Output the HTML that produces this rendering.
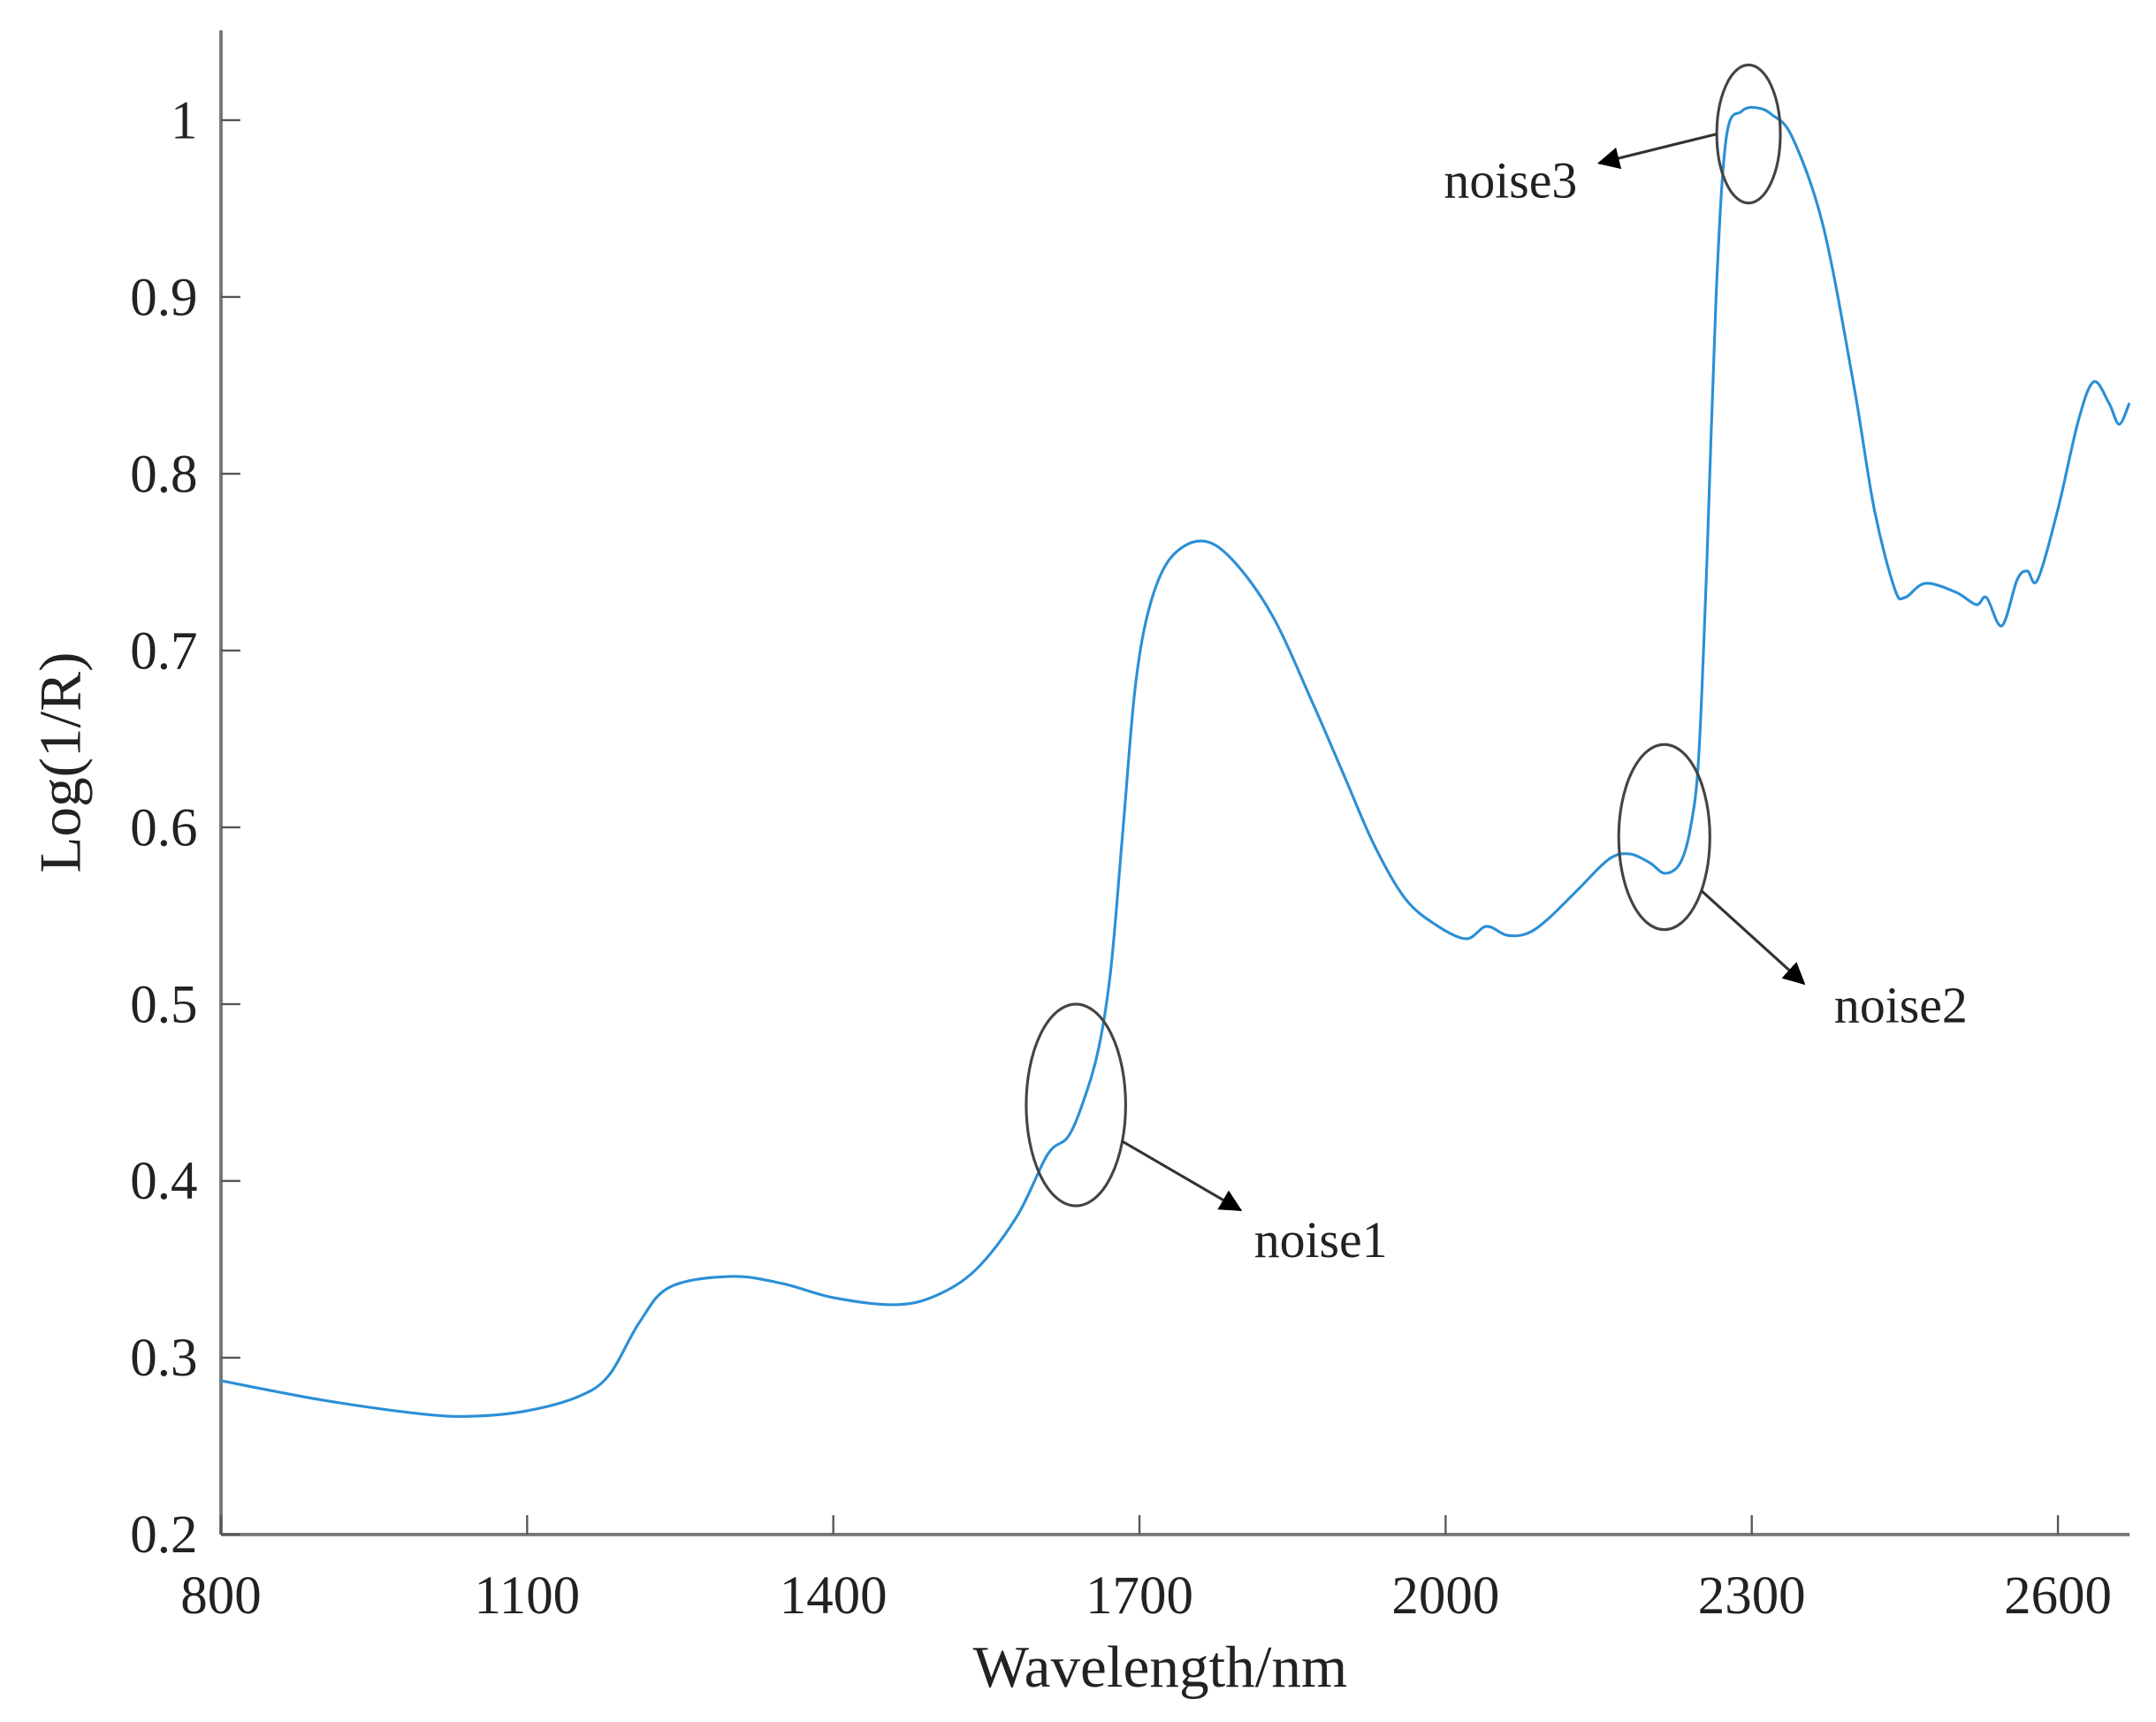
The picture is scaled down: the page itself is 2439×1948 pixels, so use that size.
<!DOCTYPE html>
<html><head><meta charset="utf-8"><style>
html,body{margin:0;padding:0;background:#fff;}
svg{display:block;}
text{font-family:"Liberation Serif",serif;fill:#222;}
</style></head><body>
<svg id="chart" width="2439" height="1948" viewBox="0 0 1561 1246.7" xmlns="http://www.w3.org/2000/svg">
<g id="axes"></g>
<path id="line" fill="none" stroke="#2b8fd6" stroke-width="2"></path>
<g id="ann"></g>
<text x="840" y="1221" font-size="43" text-anchor="middle">Wavelength/nm</text>
<text transform="translate(58,552) rotate(-90)" font-size="43" text-anchor="middle">Log(1/R)</text>
</svg>
<script>
const wavelengths=[800,900,1000,1050,1100,1150,1180,1210,1240,1300,1350,1400,1460,1500,1540,1580,1610,1630,1645,1660,1672,1684,1696,1710,1730,1760,1790,1830,1870,1900,1930,1960,1990,2020,2040,2060,2080,2100,2130,2160,2180,2200,2215,2230,2240,2248,2256,2265,2275,2290,2305,2320,2340,2370,2400,2420,2440,2450,2470,2500,2520,2530,2545,2560,2570,2580,2600,2620,2635,2650,2660,2670];
const absorbance=[0.287,0.276,0.268,0.267,0.270,0.278,0.290,0.320,0.340,0.346,0.342,0.334,0.330,0.335,0.350,0.380,0.415,0.425,0.445,0.475,0.52,0.60,0.68,0.725,0.752,0.762,0.752,0.72,0.67,0.63,0.59,0.56,0.545,0.537,0.544,0.539,0.540,0.548,0.565,0.582,0.585,0.580,0.574,0.58,0.60,0.64,0.75,0.90,0.99,1.005,1.007,1.003,0.99,0.94,0.85,0.78,0.735,0.730,0.738,0.733,0.726,0.730,0.714,0.740,0.745,0.740,0.78,0.83,0.852,0.840,0.828,0.840];
const xTicks=[800,1100,1400,1700,2000,2300,2600];
const yTicks=[0.2,0.3,0.4,0.5,0.6,0.7,0.8,0.9,1.0];
const yTickLabels=["0.2","0.3","0.4","0.5","0.6","0.7","0.8","0.9","1"];
const NS="http://www.w3.org/2000/svg";
const X=w=>160+(w-800)*(1330/1800);
const Y=v=>1111-(v-0.2)*1280;
const axes=document.getElementById('axes');
function mk(tag,attrs,parent,txt){const e=document.createElementNS(NS,tag);for(const k in attrs)e.setAttribute(k,attrs[k]);if(txt!==undefined)e.textContent=txt;parent.appendChild(e);return e;}
let e=mk('line',{x1:160,y1:22,x2:160,y2:1111,stroke:'#777','stroke-width':2.5},axes);


e=mk('line',{x1:160,y1:1111,x2:1542,y2:1111,stroke:'#777','stroke-width':2.5},axes);


xTicks.forEach(t=>{
 const x=X(t);
 let tk=mk('line',{x1:x,y1:1111,x2:x,y2:1097,stroke:'#555','stroke-width':1.5},axes);
 
 
 let lb=mk('text',{x:x,y:1168,'font-size':39,'text-anchor':'middle'},axes,String(t));
 
 
});
yTicks.forEach((t,i)=>{
 const y=Y(t);
 let tk=mk('line',{x1:160,y1:y,x2:174,y2:y,stroke:'#555','stroke-width':1.5},axes);
 
 
 let lb=mk('text',{x:143,y:y+13,'font-size':39,'text-anchor':'end'},axes,yTickLabels[i]);
 
 
});
const pts=wavelengths.map((w,i)=>[X(w),Y(absorbance[i])]);
let d='M'+pts[0][0]+','+pts[0][1];
for(let i=0;i<pts.length-1;i++){
 const p0=pts[Math.max(0,i-1)],p1=pts[i],p2=pts[i+1],p3=pts[Math.min(pts.length-1,i+2)];
 const c1=[p1[0]+(p2[0]-p0[0])/6,p1[1]+(p2[1]-p0[1])/6];
 const c2=[p2[0]-(p3[0]-p1[0])/6,p2[1]-(p3[1]-p1[1])/6];
 d+=` C${c1[0]},${c1[1]} ${c2[0]},${c2[1]} ${p2[0]},${p2[1]}`;
}
document.getElementById('line').setAttribute('d',d);
const ann=document.getElementById('ann');
mk('defs',{},ann).innerHTML='<marker id="ah" viewBox="0 0 10 10" refX="9" refY="5" markerWidth="8" markerHeight="8" orient="auto-start-reverse"><path d="M0,0 L10,5 L0,10 z" fill="#000"/></marker>';
const notes=[
 {name:'noise1',cx:779,cy:800,rx:36,ry:73,ax1:812,ay1:826,ax2:898,ay2:876,tx:908,ty:910,anchor:'start'},
 {name:'noise2',cx:1205,cy:606,rx:33,ry:67,ax1:1232,ay1:645,ax2:1306,ay2:712,tx:1328,ty:740,anchor:'start'},
 {name:'noise3',cx:1266,cy:97,rx:23,ry:50,ax1:1243,ay1:97,ax2:1158,ay2:118,tx:1142,ty:143,anchor:'end'}
];
notes.forEach(n=>{
 let el=mk('ellipse',{cx:n.cx,cy:n.cy,rx:n.rx,ry:n.ry,fill:'none',stroke:'#444','stroke-width':2},ann);
 
 
 let ar=mk('line',{x1:n.ax1,y1:n.ay1,x2:n.ax2,y2:n.ay2,stroke:'#333','stroke-width':2,'marker-end':'url(#ah)'},ann);
 
 
 let tx=mk('text',{x:n.tx,y:n.ty,'font-size':37,'text-anchor':n.anchor},ann,n.name);
 
 
});
</script>
</body></html>
